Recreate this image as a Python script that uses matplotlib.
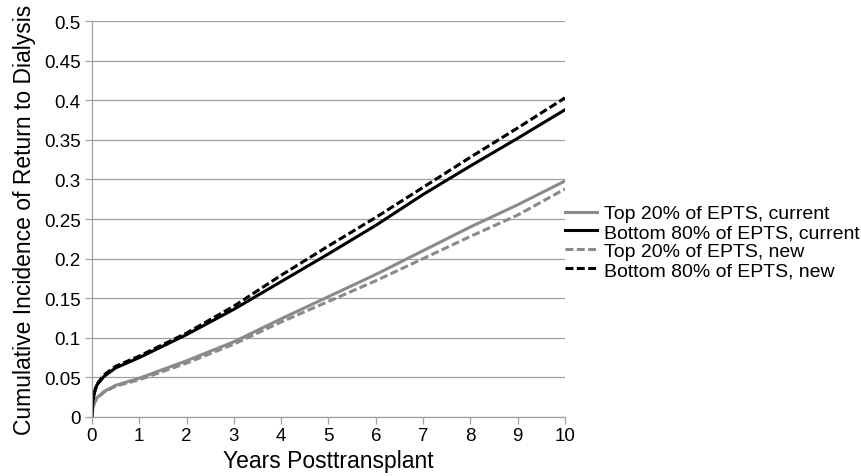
import matplotlib
matplotlib.use("Agg")
import matplotlib.pyplot as plt

plt.rcParams["font.family"] = ["Liberation Sans", "DejaVu Sans"]

# years posttransplant
years = [0, 0.02, 0.05, 0.1, 0.25, 0.5, 1, 2, 3, 4, 5, 6, 7, 8, 9, 10]

top20_current = [0, 0.012, 0.018, 0.024, 0.032, 0.040, 0.049, 0.071, 0.095, 0.124, 0.152, 0.180, 0.210, 0.240, 0.268, 0.298]
bottom80_current = [0, 0.020, 0.030, 0.040, 0.051, 0.062, 0.075, 0.104, 0.136, 0.171, 0.206, 0.242, 0.281, 0.317, 0.352, 0.388]
top20_new = [0, 0.011, 0.017, 0.023, 0.031, 0.039, 0.047, 0.068, 0.092, 0.120, 0.146, 0.172, 0.200, 0.228, 0.255, 0.288]
bottom80_new = [0, 0.021, 0.031, 0.041, 0.053, 0.064, 0.077, 0.106, 0.140, 0.179, 0.216, 0.252, 0.290, 0.328, 0.365, 0.403]

labels = [
    "Top 20% of EPTS, current",
    "Bottom 80% of EPTS, current",
    "Top 20% of EPTS, new",
    "Bottom 80% of EPTS, new",
]

GRAY = "#8a8a8a"
BLACK = "#000000"
DASH = (0, (2.6, 1.1))

fig = plt.figure(figsize=(8.62, 4.77), dpi=100)
ax = fig.add_axes([0.1067, 0.1237, 0.5487, 0.830])

ax.plot(years, top20_current, color=GRAY, lw=2.2, label=labels[0])
ax.plot(years, bottom80_current, color=BLACK, lw=2.2, label=labels[1])
ax.plot(years, top20_new, color=GRAY, lw=2.2, ls=DASH, label=labels[2])
ax.plot(years, bottom80_new, color=BLACK, lw=2.2, ls=DASH, label=labels[3])

ax.set_xlim(0, 10)
ax.set_ylim(0, 0.5)
ax.set_xticks(range(0, 11))
yt = [i * 0.05 for i in range(11)]
ax.set_yticks(yt)
ax.set_yticklabels(["0"] + [f"{v:g}" for v in [round(t, 2) for t in yt[1:]]])

ax.grid(axis="y", color="#a0a0a0", lw=0.9)
ax.set_axisbelow(True)
for s in ["top", "right"]:
    ax.spines[s].set_visible(False)
for s in ["left", "bottom"]:
    ax.spines[s].set_color("#a0a0a0")
    ax.spines[s].set_linewidth(0.9)
ax.tick_params(axis="both", color="#a0a0a0", length=5, width=0.9, labelsize=13.5)
ax.tick_params(axis="x", pad=2)
ax.tick_params(axis="y", pad=3)

ax.set_xlabel("Years Posttransplant", fontsize=16.5, labelpad=4)
ax.set_ylabel("Cumulative Incidence of Return to Dialysis", fontsize=16.5, labelpad=6)

fig.legend(loc="center left", bbox_to_anchor=(0.656, 0.4906), frameon=False,
           fontsize=14, handlelength=1.6, handletextpad=0.4, labelspacing=0.07,
           borderaxespad=0, borderpad=0)

fig.savefig("out.png", dpi=100, facecolor="white")
